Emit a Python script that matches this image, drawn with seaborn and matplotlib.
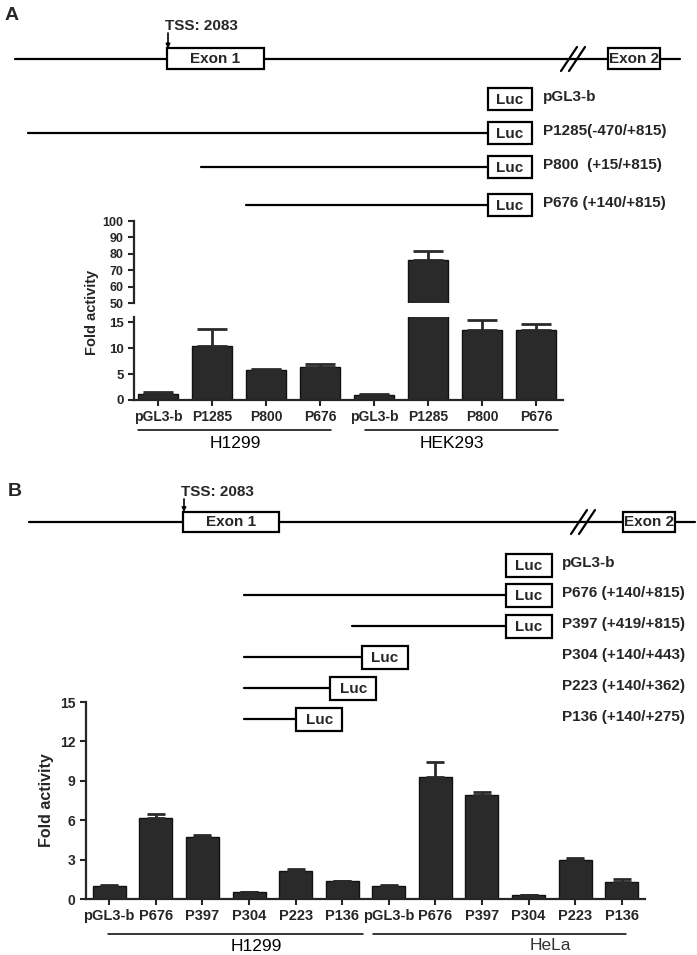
import matplotlib
matplotlib.use("Agg")
import matplotlib.pyplot as plt
import matplotlib.transforms as mtransforms
from matplotlib.patches import Rectangle
import numpy as np
import pandas as pd
import seaborn as sns

# ---------------- data ----------------
# panel A: luciferase fold activity
a_cells = ["H1299"] * 4 + ["HEK293"] * 4
a_constructs = ["pGL3-b", "P1285", "P800", "P676"] * 2
a_mean = [1.1, 10.5, 5.8, 6.4, 1.0, 76.0, 13.5, 13.5]
a_sem = [0.5, 3.1, 0.15, 0.5, 0.1, 6.0, 2.0, 1.2]

# panel B: luciferase fold activity
b_cells = ["H1299"] * 6 + ["HeLa"] * 6
b_constructs = ["pGL3-b", "P676", "P397", "P304", "P223", "P136"] * 2
b_mean = [1.0, 6.2, 4.75, 0.5, 2.15, 1.35, 1.0, 9.3, 7.9, 0.3, 3.0, 1.3]
b_sem = [0.05, 0.25, 0.1, 0.03, 0.12, 0.03, 0.05, 1.1, 0.25, 0.02, 0.12, 0.2]

# promoter constructs (bp relative to TSS); None = empty vector
a_labels = ["pGL3-b", "P1285(-470/+815)", "P800  (+15/+815)", "P676 (+140/+815)"]
a_start = [None, -470, 15, 140]
a_end = [815, 815, 815, 815]
b_labels = ["pGL3-b", "P676 (+140/+815)", "P397 (+419/+815)",
            "P304 (+140/+443)", "P223 (+140/+362)", "P136 (+140/+275)"]
b_start = [None, 140, 419, 140, 140, 140]
b_end = [815, 815, 815, 443, 362, 275]

W, H = 697, 955
BAR = "#2a2a2a"
DFS = 11  # diagram text size

sns.set_style("ticks")
plt.rcParams["font.family"] = ["Liberation Sans", "DejaVu Sans"]

fig = plt.figure(figsize=(W / 100, H / 100), dpi=100)

# overlay axes in pixel units for the gene diagrams
ax_d = fig.add_axes([0, 0, 1, 1])
ax_d.set_xlim(0, W)
ax_d.set_ylim(H, 0)
ax_d.axis("off")


def draw_gene(ax, y, x0, x1, exon1, exon2, brk, tss_x, tss_top, half):
    ax.plot([x0, x1], [y, y], color="black", lw=1.6, zorder=1)
    for (ex0, ex1), name in [(exon1, "Exon 1"), (exon2, "Exon 2")]:
        ax.add_patch(Rectangle((ex0, y - half), ex1 - ex0, 2 * half, facecolor="white",
                               edgecolor="black", lw=1.6, zorder=2))
        ax.text((ex0 + ex1) / 2, y, name, ha="center", va="center", fontsize=DFS,
                fontweight="bold", zorder=3)
    for dx in (-4, 4):
        ax.plot([brk + dx - 8, brk + dx + 8], [y + 12, y - 12], color="black", lw=1.6, zorder=3)
    ax.annotate("", xy=(tss_x, y - half), xytext=(tss_x, tss_top),
                arrowprops=dict(arrowstyle="-|>", color="black", lw=1.2, mutation_scale=6,
                                shrinkA=0, shrinkB=0))
    ax.text(tss_x - 3, tss_top - 7, "TSS: 2083", ha="left", va="center", fontsize=DFS,
            fontweight="bold")


def draw_constructs(ax, labels, starts, ends, rows, x_of, box_w, box_h, label_x):
    for lab, s, e, y in zip(labels, starts, ends, rows):
        xe = x_of(e)
        if s is not None:
            ax.plot([x_of(s), xe], [y, y], color="black", lw=1.6, zorder=1)
        ax.add_patch(Rectangle((xe, y - box_h / 2), box_w, box_h, facecolor="white",
                               edgecolor="black", lw=1.6, zorder=2))
        ax.text(xe + box_w / 2, y + 1, "Luc", ha="center", va="center", fontsize=DFS,
                fontweight="bold", zorder=3)
        ax.text(label_x, y - 2, lab, ha="left", va="center", fontsize=DFS,
                fontweight="bold")


# panel A diagram
ax_d.text(5, 15, "A", fontsize=14, fontweight="bold", ha="left", va="center")
draw_gene(ax_d, 59, 15, 680, (167, 264), (608, 660), 573, 168, 33, 10.5)
draw_constructs(ax_d, a_labels, a_start, a_end, [99, 133, 167, 205],
                lambda bp: 196 + 0.358 * bp, 44, 22, 543)

# panel B diagram
ax_d.text(8, 491, "B", fontsize=14, fontweight="bold", ha="left", va="center")
draw_gene(ax_d, 522, 29, 695, (183, 279), (623, 675), 583, 184, 499, 10)
draw_constructs(ax_d, b_labels, b_start, b_end, [565, 595, 626, 657, 688, 719],
                lambda bp: 189.7 + 0.388 * bp, 46, 23, 562)


def bars(ax, df, width, capsize):
    sns.barplot(data=df, x="key", y="mean", order=list(df["key"]), color=BAR,
                saturation=1, edgecolor="#111111", linewidth=1, width=width,
                errorbar=None, ax=ax)
    n = len(df)
    ax.errorbar(np.arange(n), df["mean"], yerr=[np.zeros(n), df["sem"]], fmt="none",
                ecolor=BAR, elinewidth=2, capsize=capsize, capthick=2, zorder=3)
    ax.set_facecolor("none")
    ax.set_xlabel("")
    ax.set_ylabel("")
    for s in ("left", "bottom"):
        ax.spines[s].set_linewidth(1.6)
    ax.tick_params(width=1.5, length=4)


def group_line(ax, x0, x1, y_px, text, tx, ty_px, fs=12.5, color="black"):
    tr = mtransforms.blended_transform_factory(ax.transData, fig.transFigure)
    ax.plot([x0, x1], [1 - y_px / H] * 2, transform=tr, color="black", lw=1.1, clip_on=False)
    ax.text(tx, 1 - ty_px / H, text, transform=tr, ha="center", va="center",
            fontsize=fs, color=color)


# ---------------- panel A chart (broken axis) ----------------
df_a = pd.DataFrame({"cell": a_cells, "construct": a_constructs, "mean": a_mean, "sem": a_sem})
df_a["key"] = df_a["cell"] + " " + df_a["construct"]

ax_lo = fig.add_axes([134 / W, 1 - 400 / H, 429 / W, 83 / H])
ax_hi = fig.add_axes([134 / W, 1 - 303 / H, 429 / W, 82 / H])
for ax in (ax_lo, ax_hi):
    bars(ax, df_a, 0.74, 10.8)
    ax.set_xlim(-0.45, 7.5)
    sns.despine(ax=ax)

ax_lo.set_ylim(0, 16)
ax_lo.set_yticks([0, 5, 10, 15])
ax_lo.set_yticklabels(["0", "5", "10", "15"], fontweight="bold", fontsize=9.5)
ax_lo.set_xticks(range(len(df_a)))
ax_lo.set_xticklabels(a_constructs, fontweight="bold", fontsize=10)

ax_hi.set_ylim(50, 100)
ax_hi.set_yticks(range(50, 101, 10))
ax_hi.set_yticklabels([str(v) for v in range(50, 101, 10)], fontweight="bold", fontsize=9)
ax_hi.spines["bottom"].set_visible(False)
ax_hi.set_xticks([])

fig.text(92 / W, 1 - 312 / H, "Fold activity", rotation=90, ha="center", va="center",
         fontsize=10.5, fontweight="bold")
group_line(ax_lo, -0.37, 3.2, 430, "H1299", 1.43, 443)
group_line(ax_lo, 3.83, 7.4, 430, "HEK293", 5.44, 443)

# ---------------- panel B chart ----------------
df_b = pd.DataFrame({"cell": b_cells, "construct": b_constructs, "mean": b_mean, "sem": b_sem})
df_b["key"] = df_b["cell"] + " " + df_b["construct"]

ax_b = fig.add_axes([86 / W, 1 - 899 / H, 559 / W, 197 / H])
bars(ax_b, df_b, 0.71, 6.8)
sns.despine(ax=ax_b)
ax_b.set_xlim(-0.5, 11.5)
ax_b.set_ylim(0, 15)
ax_b.set_yticks([0, 3, 6, 9, 12, 15])
ax_b.set_yticklabels(["0", "3", "6", "9", "12", "15"], fontweight="bold", fontsize=10)
ax_b.set_xticks(range(len(df_b)))
ax_b.set_xticklabels(b_constructs, fontweight="bold", fontsize=10.5)

fig.text(47 / W, 1 - 800 / H, "Fold activity", rotation=90, ha="center", va="center",
         fontsize=11.5, fontweight="bold")
group_line(ax_b, -0.02, 5.45, 934, "H1299", 3.15, 946)
group_line(ax_b, 5.67, 11.1, 934, "HeLa", 9.46, 945, color="#333333")

fig.savefig("out.png", dpi=100)
